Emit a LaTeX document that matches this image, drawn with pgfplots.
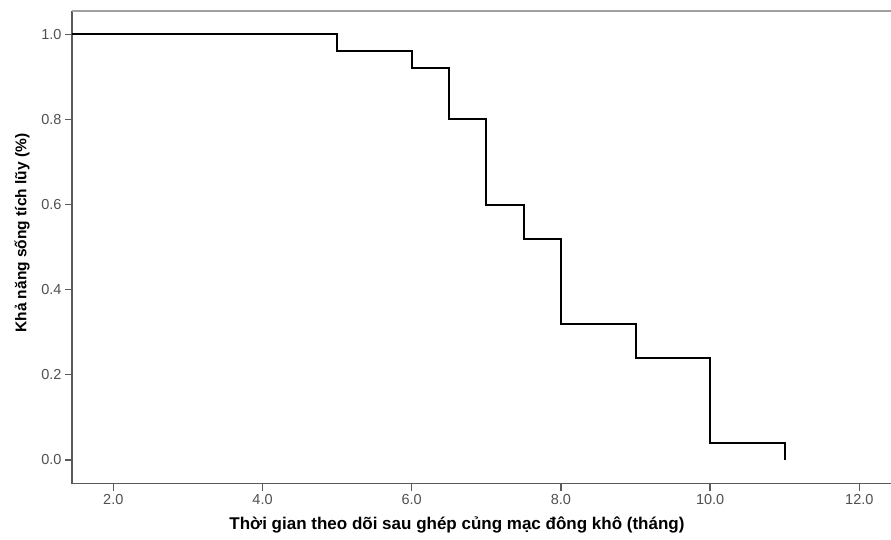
\documentclass[border=0pt]{standalone}
\usepackage{pgfplots}
\pgfplotsset{compat=1.18}
\usepackage{fontspec}
\setmainfont{Liberation Sans}
\definecolor{axgray}{HTML}{5A5A5A}
\definecolor{topgray}{HTML}{A0A0A0}
\definecolor{ticklbl}{HTML}{505050}
\begin{document}
\begin{tikzpicture}
\begin{axis}[
  scale only axis,
  width=819pt, height=472.7pt,
  xmin=1.446, xmax=12.425,
  ymin=-0.056, ymax=1.055,
  axis x line*=bottom,
  axis y line*=left,
  axis line style={axgray, line width=1.6pt},
  xtick={2,4,...,12},
  ytick={0,0.2,...,1.0},
  xticklabel style={/pgf/number format/.cd,fixed,fixed zerofill,precision=1},
  yticklabel style={/pgf/number format/.cd,fixed,fixed zerofill,precision=1},
  /pgf/number format/assume math mode=true,
  tick align=outside,
  tick style={axgray, line width=1.4pt},
  major tick length=7pt,
  tick label style={font=\fontsize{14.5}{17}\selectfont, text=ticklbl},
  xlabel={\textbf{Thời gian theo dõi sau ghép củng mạc đông khô (tháng)}},
  ylabel={\textbf{Khả năng sống tích lũy (\%)}},
  xlabel style={font=\fontsize{17}{20}\selectfont, at={(rel axis cs:0.47,-0.087)}, anchor=center},
  ylabel style={font=\fontsize{15.5}{18}\selectfont, at={(rel axis cs:-0.061,0.53)}, anchor=center},
  clip=true,
]
\addplot[black, line width=2pt, const plot, mark=none] coordinates {
 (0,1.0) (5,0.96) (6,0.92) (6.5,0.80) (7,0.60) (7.5,0.52) (8,0.32) (9,0.24) (10,0.04) (11,0.0)
};
\draw[topgray, line width=1.4pt] (rel axis cs:0,1) -- (rel axis cs:1,1);
\end{axis}
\pgfresetboundingbox
\path (current axis.south west) ++(-72pt,-56.3pt) rectangle ++(891pt,540pt);
\end{tikzpicture}
\end{document}
